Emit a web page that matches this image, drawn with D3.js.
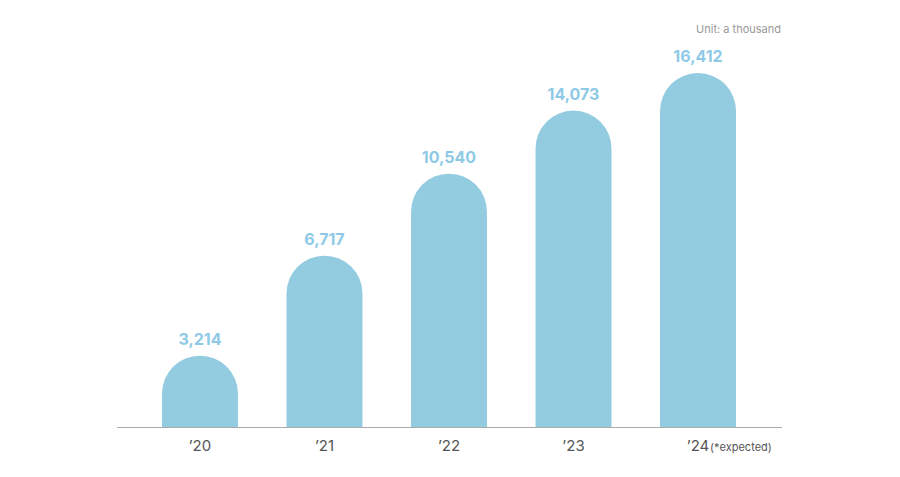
<!DOCTYPE html>
<html><head><meta charset="utf-8">
<script src="https://cdn.jsdelivr.net/npm/d3@7"></script>
<style>body{margin:0;background:#fff}</style></head>
<body><svg id="c" width="900" height="477"></svg>
<script>
const categories = ["’20","’21","’22","’23","’24"];
const values = [3214, 6717, 10540, 14073, 16412];
const labels = ["3,214","6,717","10,540","14,073","16,412"];
const svg = d3.select("#c");
const font = "Inter, 'Noto Sans', sans-serif";
const base = 427;
const x = d3.scaleBand().domain(categories).range([162, 736]).paddingInner(0.39).paddingOuter(0);
const y = d3.scaleSqrt().domain([0, 16412]).range([580, 73]);
const w = x.bandwidth(), r = w/2;
svg.append("line").attr("x1",117).attr("x2",782).attr("y1",base+0.5).attr("y2",base+0.5).attr("stroke","#aaa");
categories.forEach((c,i)=>{
  const x0 = x(c), top = y(values[i]);
  svg.append("path").attr("fill","#93cbe0")
    .attr("d",`M${x0},${base}V${top+r}A${r},${r} 0 0 1 ${x0+w},${top+r}V${base}Z`);
  svg.append("text").attr("x",x0+r).attr("y",top-11).attr("text-anchor","middle")
    .attr("font-family",font).attr("font-weight",700).attr("font-size",16).attr("fill","#8ecae6").text(labels[i]);
  svg.append("text").attr("x",x0+r).attr("y",451).attr("text-anchor","middle")
    .attr("font-family",font).attr("font-size",15).attr("fill","#555").text(c);
});
svg.append("text").attr("x",x(categories[4])+r+12).attr("y",451).attr("font-family",font).attr("font-size",11).attr("fill","#555").text("(*expected)");
svg.append("text").attr("x",781).attr("y",33).attr("text-anchor","end").attr("font-family",font).attr("font-size",11).attr("fill","#999").text("Unit: a thousand");
</script></body></html>
